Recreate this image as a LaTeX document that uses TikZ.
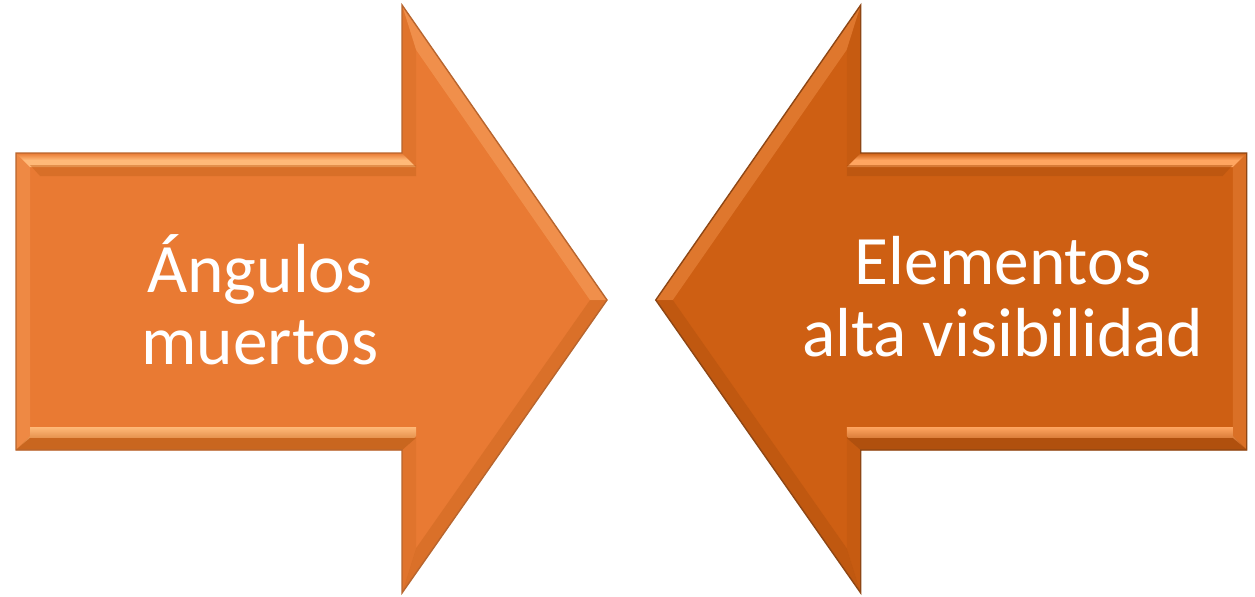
\documentclass[tikz,border=0pt]{standalone}
\usepackage{fontspec}
\setmainfont{Carlito}
\usepackage{xcolor}
\usetikzlibrary{positioning}

\definecolor{leftorange}{HTML}{E97A33}
\definecolor{leftlight}{HTML}{FFB978}
\definecolor{leftdark}{HTML}{C9661F}
\definecolor{leftedge}{HTML}{B8652E}
\definecolor{rightorange}{HTML}{CE5F13}
\definecolor{rightlight}{HTML}{FFA560}
\definecolor{rightdark}{HTML}{B0500E}
\definecolor{rightedge}{HTML}{8E4614}

\tikzset{
  label text/.style={text=white, align=center, font=\fontsize{39.5}{41}\selectfont}
}

% beveled block arrow pointing right, in pixel units: #1 main, #2 light, #3 dark, #4 edge
\newcommand{\bevelarrow}[4]{
  % outer shape
  \fill[#1] (16,153) -- (402,153) -- (402,5) -- (607,300) -- (402,593) -- (402,450) -- (16,450) -- cycle;
  % top band
  \shade[top color=#1, bottom color=#2, middle color=#2] (16,153) -- (402,153) -- (416,167) -- (30,167) -- cycle;
  \fill[#3, opacity=0.5] (30,165) -- (416,165) -- (416,176) -- (40,176) -- cycle;
  % left band
  \fill[#2, opacity=0.25] (16,153) -- (30,167) -- (30,436) -- (16,450) -- cycle;
  % head bands
  \fill[#2, opacity=0.35] (402,5) -- (607,300) -- (590,300) -- (416,49.7) -- cycle;
  \fill[#3, opacity=0.45] (607,300) -- (402,593) -- (416,548.3) -- (590,300) -- cycle;
  \fill[#3, opacity=0.25] (402,153) -- (402,5) -- (416,49.7) -- (416,167) -- cycle;
  \fill[#3, opacity=0.25] (402,593) -- (402,450) -- (416,436) -- (416,548.3) -- cycle;
  % bottom band
  \shade[top color=#2, bottom color=#3] (30,427) -- (416,427) -- (416,436) -- (402,450) -- (16,450) -- (30,436) -- cycle;
  \fill[#3] (16,450) -- (402,450) -- (416,438) -- (30,438) -- cycle;
  % outline
  \draw[#4, line width=0.8] (16,153) -- (402,153) -- (402,5) -- (607,300) -- (402,593) -- (402,450) -- (16,450) -- cycle;
}

\begin{document}
\begin{tikzpicture}[x=0.02cm, y=-0.02cm]
\useasboundingbox (0,0) rectangle (1255,596);
\bevelarrow{leftorange}{leftlight}{leftdark}{leftedge}
\begin{scope}[xshift=25.26cm, xscale=-1]
\bevelarrow{rightorange}{rightlight}{rightdark}{rightedge}
\end{scope}
\node[label text] (angulos) at (260,300) {Ángulos\\muertos};
\node[label text] (elementos) at (1003,297) {Elementos\\alta visibilidad};
\end{tikzpicture}
\end{document}
